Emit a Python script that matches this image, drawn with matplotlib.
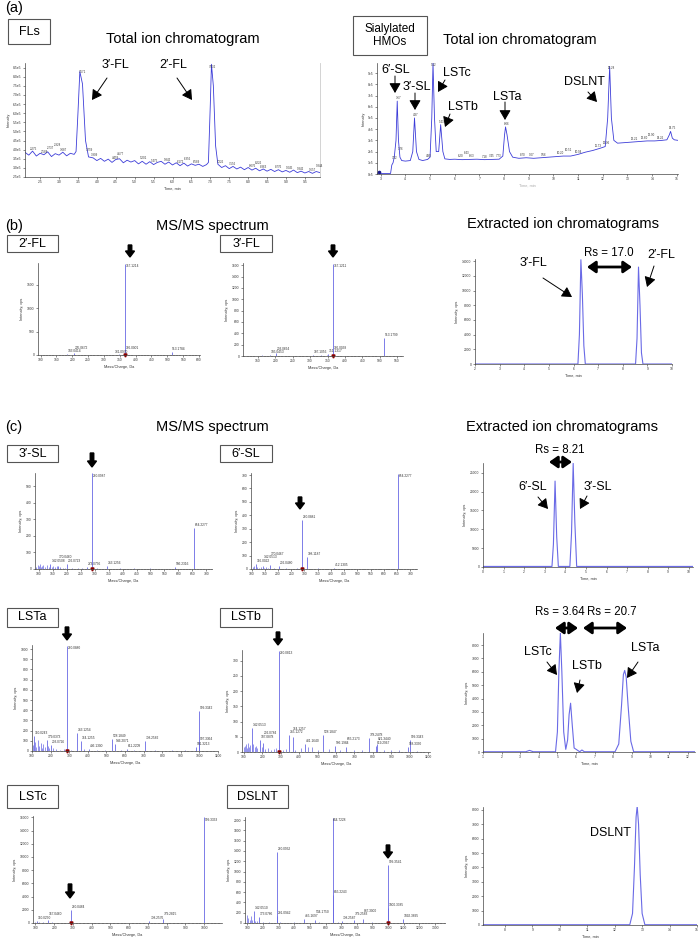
import matplotlib
matplotlib.use('Agg')
import matplotlib.pyplot as plt
from matplotlib.patches import Rectangle
from matplotlib.ticker import FuncFormatter, AutoMinorLocator, MultipleLocator
import numpy as np

plt.rcParams['font.family'] = ['Liberation Sans', 'DejaVu Sans']

# ---------------- data ----------------
# (a) total ion chromatogram, FLs  (intensity in 1e5)
tic_fl_t = [2.10, 2.20, 2.30, 2.40, 2.50, 2.60, 2.70, 2.80, 2.90, 3.00, 3.10, 3.20, 3.30, 3.40, 3.45,
            3.50, 3.55, 3.62, 3.70, 3.78, 3.90, 4.00, 4.10, 4.20, 4.30, 4.40, 4.50, 4.60, 4.70, 4.80,
            4.90, 5.00, 5.10, 5.20, 5.30, 5.40, 5.50, 5.60, 5.70, 5.80, 5.90, 6.00, 6.10, 6.20, 6.30,
            6.40, 6.50, 6.60, 6.70, 6.80, 6.90, 6.95, 7.00, 7.03, 7.08, 7.14, 7.20, 7.30, 7.40, 7.50,
            7.60, 7.70, 7.80, 7.90, 8.00, 8.10, 8.20, 8.30, 8.40, 8.50, 8.60, 8.70, 8.80, 8.90, 9.00,
            9.10, 9.20, 9.30, 9.40, 9.50, 9.60, 9.70, 9.80, 9.90]
tic_fl_i = [3.85, 3.70, 3.92, 3.65, 3.80, 3.72, 3.88, 3.62, 3.78, 3.70, 3.86, 3.66, 3.80, 3.74, 3.90,
            6.00, 8.28, 7.60, 4.50, 3.60, 3.55, 3.40, 3.52, 3.36, 3.48, 3.30, 3.46, 3.50, 3.28, 3.42,
            3.32, 3.40, 3.22, 3.36, 3.20, 3.34, 3.18, 3.30, 3.36, 3.20, 3.32, 3.16, 3.28, 3.12, 3.26,
            3.10, 3.22, 3.14, 3.20, 3.08, 3.18, 3.30, 6.50, 8.68, 7.50, 4.20, 3.20, 3.02, 3.12, 2.96,
            3.08, 2.94, 3.04, 2.90, 3.02, 2.88, 2.98, 2.84, 2.94, 2.82, 2.92, 2.80, 2.90, 2.78, 2.86,
            2.76, 2.88, 2.74, 2.82, 2.72, 2.80, 2.70, 2.80, 2.74]
tic_fl_lab = ['2.275', '2.588', '2.737', '2.928', '3.087', '3.571', '3.759', '3.909', '4.459',
              '4.577', '5.201', '5.475', '5.842', '6.172', '6.356', '6.589', '7.032', '7.226',
              '7.556', '8.076', '8.226', '8.363', '8.776', '9.045', '9.342', '9.657', '9.844']

# (a) total ion chromatogram, sialylated HMOs (intensity in 1e5)
tic_sl_t = [2.85, 2.95, 3.00, 3.40, 3.45, 3.50, 3.55, 3.62, 3.67, 3.72, 3.78, 3.85, 4.00, 4.20,
            4.30, 4.37, 4.45, 4.55, 4.70, 4.90, 5.00, 5.07, 5.12, 5.18, 5.25, 5.35, 5.43, 5.52,
            5.60, 5.80, 6.00, 6.30, 6.60, 6.90, 7.20, 7.50, 7.80, 7.95, 8.02, 8.06, 8.12, 8.22,
            8.35, 8.60, 8.90, 9.20, 9.50, 9.80, 10.10, 10.40, 10.70, 11.00, 11.30, 11.60, 11.90,
            12.10, 12.20, 12.28, 12.35, 12.45, 12.60, 12.90, 13.20, 13.50, 13.80, 14.10, 14.40,
            14.60, 14.70, 14.75, 14.82, 14.90, 15.05]
tic_sl_i = [0.02, 0.20, 0.05, 0.05, 0.80, 1.00, 1.50, 3.00, 6.50, 3.00, 1.50, 1.20, 1.15, 1.20,
            2.00, 5.00, 2.00, 1.30, 1.20, 1.30, 1.50, 5.00, 9.90, 5.00, 2.00, 2.00, 4.40, 2.00,
            1.35, 1.30, 1.32, 1.28, 1.30, 1.32, 1.28, 1.30, 1.32, 1.60, 3.50, 4.20, 3.50, 2.00,
            1.50, 1.40, 1.45, 1.40, 1.45, 1.50, 1.55, 1.60, 1.60, 1.75, 1.95, 2.10, 2.30,
            2.45, 5.00, 9.60, 5.00, 3.00, 2.75, 2.80, 2.85, 2.90, 2.95, 2.95, 3.00,
            3.05, 3.50, 3.80, 3.20, 3.05, 3.00]
tic_sl_lab = ['3.52', '3.67', '3.76', '4.37', '4.90', '5.12', '5.43', '6.20', '6.43', '6.63', '7.18',
              '7.45', '7.73', '8.06', '8.70', '9.07', '9.56', '10.20', '10.51', '10.94', '11.73',
              '12.06', '12.28', '13.21', '13.60', '13.90', '14.26', '14.75']

# (b) MS/MS spectra
fl2_mz = [183.0414, 205.0672, 331.0970, 366.0001, 367.1214, 513.1784]
fl2_int = [15, 40, 10, 20, 1950, 60]
fl2_noise_mz = [163, 185, 227, 289, 349, 385, 457]
fl2_noise_int = [8, 10, 5, 6, 12, 5, 4]

fl3_mz = [185.0453, 203.0664, 307.1056, 351.1317, 366.0038, 367.1211, 513.1799]
fl3_int = [15, 45, 12, 30, 20, 1620, 310]
fl3_noise_mz = [145, 163, 221, 289, 331, 349]
fl3_noise_int = [8, 10, 6, 8, 10, 14]

# (b) EIC of FLs
eic_fl_t = [2.0, 6.18, 6.24, 6.30, 6.36, 6.42, 6.48, 8.52, 8.58, 8.64, 8.70, 8.76, 8.82, 10.0]
eic_fl_i = [0, 0, 4000, 14200, 9500, 2500, 0, 0, 3500, 13200, 8000, 1500, 0, 0]

# (c) MS/MS spectra
sl3_mz = [142.0508, 170.0460, 202.0723, 273.0756, 290.0987, 343.1256, 586.2316, 654.2277]
sl3_int = [30, 20, 28, 12, 578, 18, 12, 246]
sl3_noise_mz = [92, 96, 100, 104, 108, 112, 116, 124, 130, 136, 148, 152, 160, 166, 178, 186,
                194, 220, 240, 256, 308, 392, 440, 500]
sl3_noise_int = [10, 25, 18, 30, 12, 20, 26, 15, 22, 10, 14, 18, 12, 16, 10, 8, 6, 5, 4, 6, 6,
                 5, 4, 4]

sl6_mz = [116.0022, 142.0513, 170.0467, 202.0480, 290.0881, 308.1187, 412.1305, 654.2277]
sl6_int = [40, 25, 30, 20, 365, 90, 10, 710]
sl6_noise_mz = [104, 110, 122, 128, 134, 148, 156, 162, 184, 230, 272, 350, 470]
sl6_noise_int = [12, 20, 15, 10, 18, 8, 12, 10, 8, 5, 6, 4, 3]

lsta_mz = [110.0243, 179.0373, 203.0726, 290.0880, 343.1254, 364.1255, 406.1300, 528.1849,
           546.2071, 611.2209, 708.2582, 981.3213, 997.3364, 999.3342]
lsta_int = [150, 110, 60, 1030, 176, 100, 20, 120, 70, 20, 100, 40, 90, 390]
lsta_noise_mz = [104, 116, 122, 130, 138, 146, 152, 160, 168, 186, 194, 212, 230, 250, 272,
                 310, 380, 450, 490, 580, 650, 760, 850, 920]
lsta_noise_int = [60, 90, 40, 110, 50, 80, 30, 70, 40, 50, 30, 25, 15, 10, 20, 10, 15, 8, 10,
                  8, 10, 6, 5, 5]

lstb_mz = [142.0513, 187.0878, 202.0784, 290.0813, 345.1272, 364.1257, 431.1640, 528.1847,
           596.1984, 655.2173, 778.2478, 819.2967, 821.3440, 988.3330, 999.3343]
lstb_int = [80, 40, 30, 333, 55, 50, 25, 55, 20, 15, 45, 20, 25, 15, 40]
lstb_noise_mz = [100, 106, 112, 118, 124, 130, 136, 150, 158, 166, 174, 196, 214, 230, 246,
                 262, 276, 310, 330, 380, 410, 450, 470, 500, 560, 620, 700, 740, 860, 900,
                 940, 1040]
lstb_noise_int = [15, 20, 25, 12, 30, 18, 22, 25, 15, 20, 12, 15, 10, 12, 8, 10, 14, 8, 10, 6,
                  12, 18, 15, 8, 10, 6, 8, 5, 6, 8, 5, 4]

lstc_mz = [110.0250, 167.0460, 290.0484, 708.2576, 779.2815, 999.3333]
lstc_int = [300, 450, 2000, 300, 600, 16000]
lstc_noise_mz = [100, 120, 140, 190, 250, 350, 500, 600, 880]
lstc_noise_int = [150, 200, 100, 80, 60, 40, 30, 40, 30]

dslnt_mz = [142.0510, 173.0786, 290.0932, 291.0942, 465.1697, 534.1750, 644.7228, 645.2243,
            708.2587, 779.2583, 837.3000, 999.3541, 1000.3385, 1092.3895]
dslnt_int = [240, 120, 1380, 130, 80, 60, 2050, 540, 40, 60, 80, 1130, 290, 70]
dslnt_noise_mz = [100, 108, 116, 124, 132, 150, 160, 200, 240, 310, 400, 560, 680, 900, 1150]
dslnt_noise_int = [150, 100, 60, 130, 50, 40, 30, 25, 20, 25, 15, 15, 10, 10, 8]

# (c) EICs
eic_sl_t = [0.0, 3.35, 3.42, 3.50, 3.58, 3.66, 4.22, 4.30, 4.38, 4.46, 4.55, 10.2]
eic_sl_i = [150, 150, 6000, 22800, 8000, 150, 150, 9000, 27500, 12000, 150, 150]

eic_lst_t = [1.0, 3.3, 3.5, 3.7, 4.9, 5.0, 5.08, 5.16, 5.24, 5.34, 5.45, 5.55, 5.63, 5.71,
             5.80, 5.90, 6.2, 6.32, 6.45, 8.1, 8.3, 8.45, 8.55, 8.62, 8.70, 8.80, 8.95, 9.1, 12.4]
eic_lst_i = [20, 20, 120, 20, 20, 1500, 6000, 8900, 6000, 1500, 200, 900, 2800, 3650, 2000,
             300, 20, 150, 20, 20, 600, 3500, 5800, 6100, 5600, 3500, 800, 20, 20]

eic_ds_t = [7.2, 12.55, 12.65, 12.72, 12.78, 12.82, 12.87, 12.93, 13.0, 13.1, 15.0]
eic_ds_i = [20, 20, 800, 4000, 7500, 8250, 7000, 3500, 800, 20, 20]

# ---------------- layout helpers ----------------
W, H = 700, 941
TIC_C = '#3c3cd8'
SPEC_C = '#6868e4'
EIC_C = '#6a6ae6'
SMALL = 2.3

fig = plt.figure(figsize=(W / 100, H / 100), dpi=100)


def pax(x0, y0, x1, y1):
    return fig.add_axes([x0 / W, 1 - y1 / H, (x1 - x0) / W, (y1 - y0) / H])


def style(ax, xlabel, ylabel):
    for s in ['top', 'right']:
        ax.spines[s].set_visible(False)
    for s in ['left', 'bottom']:
        ax.spines[s].set_linewidth(0.5)
        ax.spines[s].set_color('#444444')
    ax.tick_params(labelsize=2.4, length=1.5, width=0.4, pad=1, colors='#333333')
    ax.tick_params(which='minor', length=0.8, width=0.3)
    ax.set_xlabel(xlabel, fontsize=2.8, labelpad=1.5, color='#333333')
    ax.set_ylabel(ylabel, fontsize=2.8, labelpad=2, color='#333333')


def stagger_labels(ax, xs, ys, labs, fs=SMALL, top_inside=True):
    # place tiny peak labels, bumping them upwards when they would collide
    pos = ax.get_position()
    wpx, hpx = pos.width * W, pos.height * H
    x0, x1 = ax.get_xlim()
    y0, y1 = ax.get_ylim()
    sx = wpx / (x1 - x0)
    sy = hpx / (y1 - y0)
    char = fs * 100 / 72 * 0.56
    hh = fs * 100 / 72 * 1.05
    placed = []
    for x, y, lab in sorted(zip(xs, ys, labs)):
        w = len(lab) * char
        lx = (x - x0) * sx + 0.8
        ly = (y - y0) * sy + 1.0
        if top_inside and ly + hh > hpx:
            ly = (y - y0) * sy - hh - 1.0
        moved = True
        while moved:
            moved = False
            for (px, py, pw, ph) in placed:
                if lx < px + pw and px < lx + w and ly < py + ph and py < ly + hh:
                    ly = py + ph + 0.2
                    moved = True
        placed.append((lx, ly, w, hh))
        ax.text(x0 + lx / sx, y0 + ly / sy, lab, fontsize=fs, color='#333333',
                ha='left', va='bottom')


def spectrum(ax, mz, inten, nmz, nint, prec, xlim, ylim, xstep, ystep):
    ax.vlines(nmz, 0, nint, color=SPEC_C, lw=0.5)
    ax.vlines(mz, 0, inten, color=SPEC_C, lw=0.6)
    ax.axhline(0, color=SPEC_C, lw=0.6)
    ax.plot([prec], [0], marker='v', color='#8b0000', ms=2.2, clip_on=False)
    ax.set_xlim(*xlim)
    ax.set_ylim(*ylim)
    ax.xaxis.set_major_locator(MultipleLocator(xstep))
    ax.yaxis.set_major_locator(MultipleLocator(ystep))
    ax.xaxis.set_minor_locator(AutoMinorLocator(5))
    style(ax, 'Mass/Charge, Da', 'Intensity, cps')
    stagger_labels(ax, mz, inten, ['%.4f' % m for m in mz])


def eic(ax, t, i, xlim, ylim, ystep):
    ax.plot(t, i, color=EIC_C, lw=0.8)
    ax.set_xlim(*xlim)
    ax.set_ylim(*ylim)
    ax.xaxis.set_major_locator(MultipleLocator(1))
    ax.yaxis.set_major_locator(MultipleLocator(ystep))
    style(ax, 'Time, min', 'Intensity, cps')


# ---------------- (a) TICs ----------------
ax = pax(25, 63, 320, 177)
y = np.array(tic_fl_i) * 1e5
ax.plot(tic_fl_t, y, color=TIC_C, lw=0.6)
ax.set_xlim(2.1, 9.9)
ax.set_ylim(2.5e5, 8.75e5)
ax.xaxis.set_major_locator(MultipleLocator(0.5))
ax.yaxis.set_major_locator(MultipleLocator(0.5e5))
ax.yaxis.set_major_formatter(FuncFormatter(lambda v, p: '%.1fe5' % (v / 1e5)))
style(ax, 'Time, min', 'Intensity')
ax.spines['right'].set_visible(True)
ax.spines['right'].set_color('#cccccc')
ax.spines['right'].set_linewidth(0.6)
lt = [float(s) for s in tic_fl_lab]
stagger_labels(ax, [v - 0.08 for v in lt], np.interp(lt, tic_fl_t, y), tic_fl_lab, fs=2.1)

ax = pax(377, 63, 678, 174)
y = np.array(tic_sl_i) * 1e5
ax.plot(tic_sl_t, y, color=TIC_C, lw=0.6)
ax.plot(tic_sl_t[1], y[1], marker='o', color='#1a1a8c', ms=1.6)
ax.set_xlim(2.85, 15.05)
ax.set_ylim(0, 9.9e5)
ax.xaxis.set_major_locator(MultipleLocator(1))
ax.yaxis.set_major_locator(MultipleLocator(1e5))
ax.yaxis.set_major_formatter(FuncFormatter(lambda v, p: '%.0fe5' % (v / 1e5)))
style(ax, 'Time, min', 'Intensity')
ax.xaxis.label.set_color('#aaaaaa')
lt = [float(s) for s in tic_sl_lab]
stagger_labels(ax, [v - 0.1 for v in lt], np.interp(lt, tic_sl_t, y), tic_sl_lab, fs=2.1)

# ---------------- (b) ----------------
ax = pax(38, 263, 200, 355)
spectrum(ax, fl2_mz, fl2_int, fl2_noise_mz, fl2_noise_int, 367.12, (92, 603), (0, 1965), 50, 500)
ax = pax(243, 263, 403, 356)
spectrum(ax, fl3_mz, fl3_int, fl3_noise_mz, fl3_noise_int, 367.12, (107, 567), (0, 1640), 50, 200)
ax = pax(475, 259, 672, 364)
eic(ax, eic_fl_t, eic_fl_i, (2, 10), (0, 14300), 2000)

# ---------------- (c) ----------------
ax = pax(35, 473, 212, 569)
spectrum(ax, sl3_mz, sl3_int, sl3_noise_mz, sl3_noise_int, 290.09, (87, 720), (0, 580), 50, 100)
ax = pax(251, 473, 417, 569)
spectrum(ax, sl6_mz, sl6_int, sl6_noise_mz, sl6_noise_int, 290.09, (98, 725), (0, 715), 50, 100)
ax = pax(483, 463, 693, 567)
eic(ax, eic_sl_t, eic_sl_i, (0, 10.2), (0, 27600), 5000)

ax = pax(32, 645, 218, 751)
spectrum(ax, lsta_mz, lsta_int, lsta_noise_mz, lsta_noise_int, 290.09, (100, 1100), (0, 1040), 100, 100)
ax = pax(242, 650, 430, 752)
spectrum(ax, lstb_mz, lstb_int, lstb_noise_mz, lstb_noise_int, 290.08, (90, 1110), (0, 335), 100, 50)
ax = pax(483, 633, 695, 752)
eic(ax, eic_lst_t, eic_lst_i, (1, 12.4), (0, 8900), 1000)

ax = pax(33, 816, 222, 923)
spectrum(ax, lstc_mz, lstc_int, lstc_noise_mz, lstc_noise_int, 290.05, (87, 1095), (0, 16200), 100, 2000)
ax = pax(245, 817, 445, 923)
spectrum(ax, dslnt_mz, dslnt_int, dslnt_noise_mz, dslnt_noise_int, 999.35, (86, 1363), (0, 2060), 100, 200)
ax = pax(483, 807, 697, 925)
eic(ax, eic_ds_t, eic_ds_i, (7.2, 15.0), (0, 8200), 1000)

# ---------------- overlay: titles, boxes, arrows ----------------
ov = fig.add_axes([0, 0, 1, 1])
ov.set_xlim(0, W)
ov.set_ylim(H, 0)
ov.axis('off')


def box(x0, y0, x1, y1, txt, fs=9):
    ov.add_patch(Rectangle((x0, y0), x1 - x0, y1 - y0, fc='white', ec='#555555', lw=0.8))
    ov.text((x0 + x1) / 2, (y0 + y1) / 2, txt, ha='center', va='center', fontsize=fs,
            linespacing=1.1)


def label_arrow(txt, tx, ty, x0, y0, x1, y1, fs=9):
    ov.text(tx, ty, txt, ha='center', va='center', fontsize=fs)
    ov.annotate('', xy=(x1, y1), xytext=(x0, y0),
                arrowprops=dict(arrowstyle='-|>,head_length=0.6,head_width=0.35', lw=0.7,
                                color='k', mutation_scale=10, shrinkA=0, shrinkB=0))


def down_arrow(x, y0, y1):
    ov.arrow(x, y0, 0, y1 - y0, width=3.5, head_width=9, head_length=6,
             length_includes_head=True, color='k')


def double_arrow(x0, x1, y):
    ov.annotate('', xy=(x1, y), xytext=(x0, y),
                arrowprops=dict(arrowstyle='<|-|>,head_length=0.5,head_width=0.35', lw=2,
                                color='k', mutation_scale=10, shrinkA=0, shrinkB=0))


for txt, yy in [('(a)', 8), ('(b)', 226), ('(c)', 427)]:
    ov.text(5, yy, txt, ha='left', va='center', fontsize=10.5)
ov.text(183, 39, 'Total ion chromatogram', ha='center', va='center', fontsize=10.5)
ov.text(520, 40, 'Total ion chromatogram', ha='center', va='center', fontsize=10.5)
ov.text(212, 226, 'MS/MS spectrum', ha='center', va='center', fontsize=10.5)
ov.text(563, 224, 'Extracted ion chromatograms', ha='center', va='center', fontsize=10.5)
ov.text(212, 427, 'MS/MS spectrum', ha='center', va='center', fontsize=10.5)
ov.text(562, 427, 'Extracted ion chromatograms', ha='center', va='center', fontsize=10.5)

box(8, 19, 50, 44, 'FLs')
box(353, 16, 427, 55, 'Sialylated\nHMOs', fs=8.5)
box(7, 235, 58, 252, "2\u2032-FL")
box(220, 235, 272, 252, "3\u2032-FL")
box(7, 445, 58, 462, "3\u2032-SL")
box(220, 445, 272, 462, "6\u2032-SL")
box(7, 608, 58, 627, 'LSTa')
box(220, 608, 272, 627, 'LSTb')
box(7, 785, 58, 808, 'LSTc')
box(227, 785, 288, 808, 'DSLNT')

for x, y0, y1 in [(130, 245, 257), (333, 245, 257), (92, 453, 467), (300, 497, 509),
                  (67, 627, 640), (278, 632, 645), (70, 884, 898), (388, 845, 858)]:
    down_arrow(x, y0, y1)

# (a)
label_arrow("3\u2032-FL", 115, 65, 107, 78, 92, 100)
label_arrow("2\u2032-FL", 173, 65, 177, 78, 192, 100)
label_arrow("6\u2032-SL", 396, 70, 395, 76, 395, 93)
label_arrow("3\u2032-SL", 417, 87, 415, 93, 415, 110)
label_arrow('LSTc', 457, 73, 445, 80, 438, 92)
label_arrow('LSTb', 463, 107, 450, 114, 445, 127)
label_arrow('LSTa', 507, 97, 505, 102, 505, 120)
label_arrow('DSLNT', 584, 82, 588, 92, 597, 102)

# (b)
label_arrow("3\u2032-FL", 533, 263, 543, 278, 572, 297)
label_arrow("2\u2032-FL", 661, 255, 654, 266, 647, 287)
ov.text(609, 253, 'Rs = 17.0', ha='center', va='center', fontsize=8.3)
double_arrow(587, 632, 267)

# (c)
ov.text(560, 450, 'Rs = 8.21', ha='center', va='center', fontsize=8.3)
double_arrow(549, 572, 462)
label_arrow("6\u2032-SL", 533, 487, 538, 497, 548, 509)
label_arrow("3\u2032-SL", 598, 487, 587, 496, 580, 509)

ov.text(560, 612, 'Rs = 3.64', ha='center', va='center', fontsize=8.3)
ov.text(612, 612, 'Rs = 20.7', ha='center', va='center', fontsize=8.3)
double_arrow(555, 578, 628)
double_arrow(583, 627, 628)
label_arrow('LSTc', 538, 652, 547, 662, 557, 675)
label_arrow('LSTb', 587, 666, 580, 680, 577, 693)
label_arrow('LSTa', 645, 648, 638, 662, 627, 678)

ov.text(610, 833, 'DSLNT', ha='center', va='center', fontsize=9)

fig.savefig('out.png', dpi=100)
